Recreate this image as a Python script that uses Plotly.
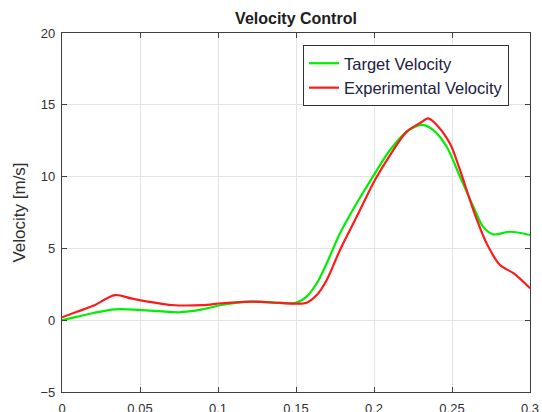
import plotly.graph_objects as go

t_target = [0, 0.01, 0.02, 0.034, 0.05, 0.075, 0.09, 0.1024, 0.1216, 0.14, 0.1504,
            0.1568, 0.1633, 0.1697, 0.1782, 0.1889, 0.2006, 0.2103, 0.221, 0.2306,
            0.238, 0.2466, 0.2551, 0.2637, 0.27, 0.2765, 0.2872, 0.3]
v_target = [0, 0.25, 0.5, 0.76, 0.72, 0.55, 0.75, 1.06, 1.29, 1.2, 1.22,
            1.64, 2.57, 3.96, 6.05, 8.14, 10.23, 11.85, 13.13, 13.6,
            13.24, 12.08, 10.0, 7.9, 6.5, 5.98, 6.16, 5.93]

t_exp = [0, 0.01, 0.02, 0.034, 0.045, 0.0703, 0.09, 0.1024, 0.1216, 0.14, 0.1504,
         0.1568, 0.1633, 0.1697, 0.1782, 0.1889, 0.2006, 0.2103, 0.221, 0.2306, 0.2348,
         0.2402, 0.2487, 0.2551, 0.2637, 0.2722, 0.2808, 0.2894, 0.3]
v_exp = [0.2, 0.6, 1.0, 1.75, 1.5, 1.06, 1.05, 1.18, 1.29, 1.2, 1.15,
         1.22, 1.75, 2.8, 4.89, 7.2, 9.76, 11.5, 13.13, 13.8, 14.06,
         13.6, 12.3, 10.46, 7.67, 5.35, 3.84, 3.27, 2.22]

x_ticks = [0, 0.05, 0.1, 0.15, 0.2, 0.25, 0.3]
x_labels = ["0", "0.05", "0.1", "0.15", "0.2", "0.25", "0.3"]
y_ticks = [-5, 0, 5, 10, 15, 20]

FONT = "Liberation Sans, Arial"

fig = go.Figure()
fig.add_trace(go.Scatter(x=t_target, y=v_target, mode="lines", name="Target Velocity",
                         line=dict(color="#00ee00", width=2.2, shape="spline", smoothing=0.9)))
fig.add_trace(go.Scatter(x=t_exp, y=v_exp, mode="lines", name="Experimental Velocity",
                         line=dict(color="#ff1a1a", width=2.2, shape="spline", smoothing=0.9)))

axis_common = dict(showline=True, linecolor="#404040", linewidth=1.2, mirror="ticks",
                   ticks="inside", ticklen=5, tickcolor="#404040", automargin=False,
                   showgrid=True, gridcolor="#e3e3e3", gridwidth=1, zeroline=False,
                   tickfont=dict(family=FONT, size=13, color="#303030"))

fig.update_layout(
    width=542, height=412,
    margin=dict(l=62, r=12, t=33, b=20),
    paper_bgcolor="white", plot_bgcolor="white",
    title=dict(text="<b>Velocity Control</b>", x=(62 + 530) / 2 / 542, xanchor="center",
               y=1 - 18 / 412, yanchor="middle",
               font=dict(family=FONT, size=16, color="#202020")),
    xaxis=dict(range=[0, 0.3], tickvals=x_ticks, ticktext=x_labels,
               ticklabelstandoff=4, **axis_common),
    yaxis=dict(range=[-5, 20], tickvals=y_ticks, ticklabelstandoff=3,
               title=dict(text="Velocity [m/s]", standoff=10,
                          font=dict(family=FONT, size=17, color="#303030")),
               **axis_common),
    legend=dict(x=(303 - 62) / 468, y=(392 - 45) / 359, xanchor="left", yanchor="top",
                bgcolor="white", bordercolor="#303030", borderwidth=1,
                font=dict(family=FONT, size=16.5, color="#202040"),
                tracegroupgap=0, itemwidth=30),
    showlegend=True,
)

fig.write_html("out.html")
